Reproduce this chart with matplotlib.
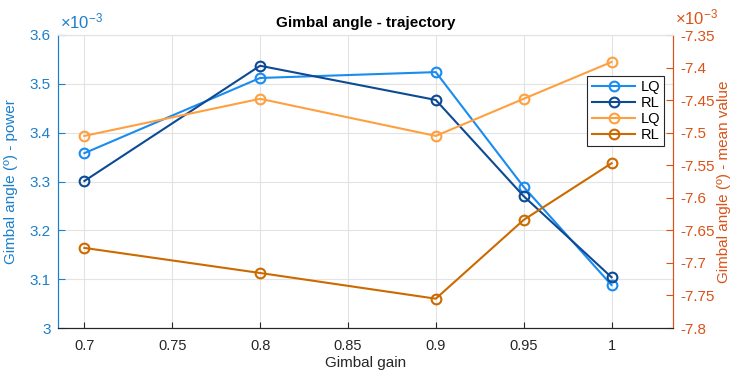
import matplotlib
matplotlib.use("Agg")
import matplotlib.pyplot as plt
from matplotlib.ticker import FuncFormatter, MultipleLocator

plt.rcParams['font.family'] = ['Liberation Sans', 'DejaVu Sans']
plt.rcParams['axes.unicode_minus'] = False
plt.rcParams['mathtext.fontset'] = 'custom'
plt.rcParams['mathtext.rm'] = 'Liberation Sans'
plt.rcParams['mathtext.it'] = 'Liberation Sans'

gain = [0.7, 0.8, 0.9, 0.95, 1.0]
# left axis: power (x 1e-3)
power_lq = [3.358, 3.512, 3.524, 3.289, 3.088]
power_rl = [3.301, 3.537, 3.467, 3.270, 3.104]
# right axis: mean value (x 1e-3)
mean_lq = [-7.505, -7.448, -7.505, -7.448, -7.3915]
mean_rl = [-7.677, -7.7155, -7.755, -7.634, -7.547]
labels = ['LQ', 'RL', 'LQ', 'RL']

c_lq_b = '#1a8cf0'
c_rl_b = '#0d4a94'
c_lq_o = '#ffa040'
c_rl_o = '#cc6a00'
c_left = '#1b7fcc'
c_right = '#d95319'
c_dark = '#262626'

fig = plt.figure(figsize=(7.34, 3.70), dpi=100)
ax = fig.add_axes([58/734, 42/370, 615/734, 293/370])
ax2 = ax.twinx()

kw = dict(marker='o', markerfacecolor='none', markersize=7, markeredgewidth=1.5, linewidth=1.5)
h1, = ax.plot(gain, power_lq, color=c_lq_b, **kw)
h2, = ax.plot(gain, power_rl, color=c_rl_b, **kw)
h3, = ax2.plot(gain, mean_lq, color=c_lq_o, **kw)
h4, = ax2.plot(gain, mean_rl, color=c_rl_o, **kw)

ax.set_xlim(0.685, 1.035)
ax.set_ylim(3.0, 3.6)
ax2.set_ylim(-7.8, -7.35)
ax.xaxis.set_major_locator(MultipleLocator(0.05))
ax.yaxis.set_major_locator(MultipleLocator(0.1))
ax2.yaxis.set_major_locator(MultipleLocator(0.05))
fmt = FuncFormatter(lambda v, p: '%g' % round(v, 4))
ax.xaxis.set_major_formatter(fmt)
ax.yaxis.set_major_formatter(fmt)
ax2.yaxis.set_major_formatter(fmt)

ax.grid(True, color='#e3e3e3', linewidth=0.8)
ax.set_axisbelow(True)

for a in (ax, ax2):
    for s in a.spines.values():
        s.set_linewidth(0.8)
    a.spines['top'].set_color('#e3e3e3')
    a.spines['bottom'].set_color(c_dark)
    a.spines['left'].set_color(c_left)
    a.spines['right'].set_color(c_right)

ax.tick_params(axis='x', direction='in', colors=c_dark, labelsize=10.5, length=4, pad=8)
ax.tick_params(axis='y', direction='in', colors=c_left, labelsize=11, length=5, pad=5)
ax2.tick_params(axis='y', direction='in', colors=c_right, labelsize=11, length=5, pad=5)

ax.set_xlabel('Gimbal gain', color=c_dark, fontsize=11, labelpad=2)
ax.set_ylabel('Gimbal angle (º) - power', color=c_left, fontsize=11)
ax2.set_ylabel('Gimbal angle (º) - mean value', color=c_right, fontsize=11, rotation=90)
ax.yaxis.set_label_coords(-0.065, 0.5)
ax2.yaxis.set_label_coords(1.071, 0.5)

ax.set_title('Gimbal angle - trajectory', fontsize=11, fontweight='bold', pad=6)

ax.text(0.003, 1.012, r'$\times10^{-3}$', transform=ax.transAxes, color=c_left,
        fontsize=12, ha='left', va='bottom')
ax2.text(1.003, 1.025, r'$\times10^{-3}$', transform=ax2.transAxes, color=c_right,
         fontsize=12, ha='left', va='bottom')

leg = ax2.legend([h1, h2, h3, h4], labels, loc='upper right',
                 bbox_to_anchor=(0.986, 0.86), fontsize=10.5, frameon=True,
                 fancybox=False, edgecolor=c_dark, framealpha=1,
                 handlelength=3.0, handletextpad=0.35, borderpad=0.3,
                 labelspacing=0.12, borderaxespad=0)
leg.get_frame().set_linewidth(0.8)

fig.savefig('out.png', dpi=100)
